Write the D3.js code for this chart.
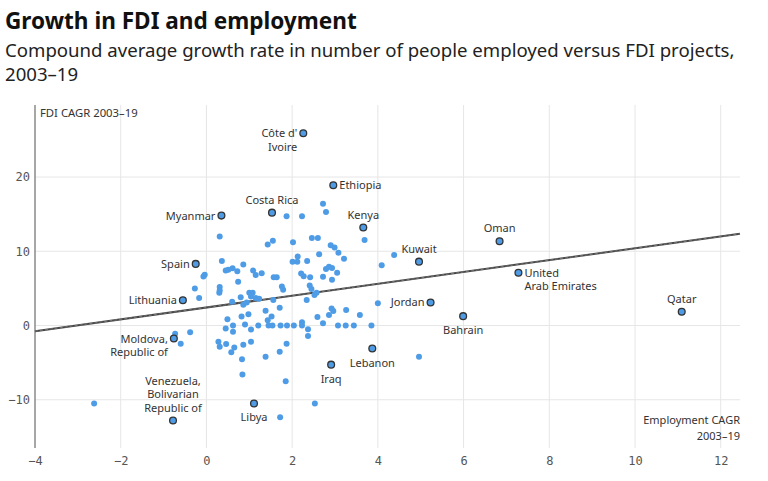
<!DOCTYPE html>
<html><head><meta charset="utf-8">
<script src="https://cdn.jsdelivr.net/npm/d3@7"></script>
<style>
body{margin:0;background:#fff;}
svg{display:block;}
</style></head>
<body>
<svg id="chart" width="768" height="481"></svg>
<script>
// ---- Data ----
const titleText = "Growth in FDI and employment";
const subtitleLines = ["Compound average growth rate in number of people employed versus FDI projects,", "2003\u201319"];
const yAxisTitle = "FDI CAGR 2003\u201319";
const xAxisTitle = ["Employment CAGR", "2003\u201319"];
const xTicks = [-4, -2, 0, 2, 4, 6, 8, 10, 12];
const yTicks = [-10, 0, 10, 20];

// other countries: [employment CAGR, FDI CAGR]
const otherPoints = [
 [2.72,16.4],[2.79,15.3],[1.87,14.7],[2.23,14.7],[0.31,12.0],[1.43,10.9],[1.55,11.4],[2.02,11.2],
 [2.46,11.8],[2.60,11.8],[3.69,11.5],[2.90,10.8],[2.99,10.5],[3.08,9.8],[3.21,9.0],[4.38,9.5],
 [4.09,8.1],[2.63,9.6],[2.13,9.3],[2.01,8.6],[2.12,8.6],[2.35,8.7],
 [0.36,8.7],[0.86,8.2],[0.45,7.4],[0.51,7.5],[0.61,7.7],[0.72,7.3],[1.09,7.4],[1.15,6.8],[1.29,7.05],
 [1.57,6.5],[1.64,6.5],[-0.07,6.6],[-0.04,6.85],[0.74,5.9],[-0.27,5.0],[-0.17,3.7],[0.31,5.2],[0.31,4.7],
 [0.30,4.4],[0.60,3.2],[0.80,3.8],[0.86,2.8],[1.00,4.4],[1.08,4.4],[1.04,3.9],[1.15,3.7],[1.23,3.6],
 [0.94,3.1],[1.76,5.25],[1.79,4.8],[1.56,3.45],[1.71,2.4],[1.38,2.0],
 [2.21,7.0],[2.27,6.65],[2.42,6.5],[2.79,7.6],[2.86,7.9],[2.93,7.75],[2.72,6.55],[3.05,7.1],[2.93,6.15],
 [2.41,5.4],[2.45,4.9],[2.34,3.45],[2.52,4.1],[2.57,4.4],[2.92,2.3],[2.96,1.95],[3.26,2.1],[2.86,1.4],
 [3.58,1.4],[2.59,1.15],[2.72,0.3],[4.0,3.0],
 [0.49,0.85],[0.82,1.2],[0.98,1.5],[1.43,0.7],[1.52,1.2],
 [0.62,0],[1.21,0],[1.45,0],[1.54,0],[1.73,0],[1.88,0],[2.04,0],[2.23,0],[3.07,0],[3.25,0],[3.44,0],[3.85,0],
 [0.45,-0.4],[0.62,-0.85],[0.90,0.15],[1.04,-0.55],[2.23,0.45],[2.37,-0.5],[2.37,-1.4],
 [0.28,-2.2],[0.31,-2.85],[0.46,-2.5],[0.65,-2.95],[0.58,-3.6],[0.86,-2.6],[1.04,-2.2],[1.71,-3.55],
 [1.87,-2.45],[1.38,-4.2],[0.83,-4.55],[0.84,-6.6],[1.85,-7.5],[1.72,-12.35],[2.53,-10.5],[-2.62,-10.5],
 [4.96,-4.2],[-0.38,-0.9],[-0.6,-2.45],[-0.73,-1.1]
];

// highlighted countries
const highlightNames = ["C\u00f4te d'|Ivoire","Ethiopia","Costa Rica","Myanmar","Kenya","Spain","Lithuania",
 "Moldova,|Republic of","Venezuela,|Bolivarian|Republic of","Libya","Iraq","Lebanon","Kuwait","Jordan",
 "Bahrain","Oman","United|Arab Emirates","Qatar"];
const highlightX = [2.26,2.96,1.53,0.35,3.66,-0.25,-0.55,-0.76,-0.78,1.11,2.91,3.87,4.96,5.23,5.99,6.84,7.28,11.09];
const highlightY = [25.9,18.9,15.2,14.8,13.2,8.3,3.4,-1.76,-12.8,-10.5,-5.27,-3.1,8.6,3.1,1.26,11.35,7.1,1.85];
// label placement: L = left of point, R = right, A = above, B = below
const labelSide = ["L","R","A","L","A","L","L","L","A","B","B","B","A","L","B","A","R","A"];

// fitted trend line endpoints
const trendX = [-4, 12.45];
const trendY = [-0.76, 12.35];

// ---- Chart ----
const svg = d3.select("#chart");
const W = 768, H = 481;
svg.append("rect").attr("width", W).attr("height", H).attr("fill", "#fff");

const x = d3.scaleLinear().domain([-4, 12.45]).range([35, 740]);
const y = d3.scaleLinear().domain([-16.5, 29.7]).range([448, 105]);

const font = "'Noto Sans', 'Open Sans', sans-serif";

svg.append("text").attr("x", 5).attr("y", 29).text(titleText)
  .attr("font-family", font).attr("font-weight", 700).attr("font-size", 22.6).attr("fill", "#111");
subtitleLines.forEach((t, i) => {
  svg.append("text").attr("x", 5).attr("y", 57 + i * 24).text(t)
    .attr("font-family", font).attr("font-size", 18.6).attr("fill", "#222");
});

// gridlines
const g = svg.append("g");
g.selectAll(".vg").data(xTicks.filter(d => d !== -4)).join("line")
  .attr("x1", d => x(d)).attr("x2", d => x(d)).attr("y1", y(29.7)).attr("y2", y(-16.5))
  .attr("stroke", "#e6e6e6").attr("stroke-width", 1);
g.selectAll(".hg").data(yTicks).join("line")
  .attr("x1", x(-4)).attr("x2", x(12.45)).attr("y1", d => y(d)).attr("y2", d => y(d))
  .attr("stroke", "#e6e6e6").attr("stroke-width", 1);

// x axis labels
const xAxis = d3.axisBottom(x).tickValues(xTicks).tickSize(0).tickPadding(0).tickFormat(d => d < 0 ? "\u2212" + Math.abs(d) : d);
const xg = svg.append("g").attr("transform", `translate(0,${456})`).call(xAxis);
xg.select(".domain").remove();
xg.selectAll("text").attr("font-family", "'DejaVu Sans Mono', monospace").attr("font-size", 12).attr("fill", "#555");

// y axis labels
const yAxis = d3.axisLeft(y).tickValues(yTicks).tickSize(0).tickPadding(0).tickFormat(d => d < 0 ? "\u2212" + Math.abs(d) : d);
const yg = svg.append("g").attr("transform", `translate(${30},0)`).call(yAxis);
yg.select(".domain").remove();
yg.selectAll("text").attr("font-family", "'DejaVu Sans Mono', monospace").attr("font-size", 12).attr("fill", "#555");

// left axis line
svg.append("line").attr("x1", x(-4)).attr("x2", x(-4)).attr("y1", y(29.7)).attr("y2", y(-16.5))
  .attr("stroke", "#8a8a8a").attr("stroke-width", 1.5);

// axis titles
svg.append("text").attr("x", 40).attr("y", 117).text(yAxisTitle)
  .attr("font-family", font).attr("font-size", 11.3).attr("fill", "#333");
xAxisTitle.forEach((t, i) => {
  svg.append("text").attr("x", 740).attr("y", 424 + i * 16).attr("text-anchor", "end").text(t)
    .attr("font-family", font).attr("font-size", 11).attr("fill", "#333");
});

// trend line
const trendData = trendX.map((d, i) => [d, trendY[i]]);
const lineGen = d3.line().x(d => x(d[0])).y(d => y(d[1]));
svg.append("path").datum(trendData).attr("d", lineGen).attr("stroke", "#444").attr("stroke-width", 2).attr("fill", "none");
svg.append("path").datum(trendData).attr("d", lineGen).attr("stroke", "#999").attr("stroke-width", 0.6)
  .attr("stroke-dasharray", "3,2").attr("fill", "none");

// other points
const blue = "#4f9ce6";
svg.append("g").selectAll("circle").data(otherPoints).join("circle")
  .attr("cx", d => x(d[0])).attr("cy", d => y(d[1])).attr("r", 3).attr("fill", blue);

// highlighted
const hl = highlightNames.map((n, i) => ({ lines: n.split("|"), x: highlightX[i], y: highlightY[i], side: labelSide[i] }));
svg.append("g").selectAll("circle").data(hl).join("circle")
  .attr("cx", d => x(d.x)).attr("cy", d => y(d.y)).attr("r", 3.4)
  .attr("fill", blue).attr("stroke", "#333").attr("stroke-width", 1.3);

const lh = 13.5;
const lab = svg.append("g").attr("font-family", font).attr("font-size", 11).attr("fill", "#333");
hl.forEach(d => {
  const px = x(d.x), py = y(d.y);
  const n = d.lines.length;
  let anchor, tx, firstY;
  if (d.side === "L") { anchor = "end"; tx = px - 6; firstY = py + 4; }
  else if (d.side === "R") { anchor = "start"; tx = px + 6; firstY = py + 4; }
  else if (d.side === "A") { anchor = "middle"; tx = px; firstY = py - 9 - (n - 1) * lh; }
  else { anchor = "middle"; tx = px; firstY = py + 18; }
  d.lines.forEach((t, i) => {
    lab.append("text").attr("x", tx).attr("y", firstY + i * lh).attr("text-anchor", anchor).text(t);
  });
});
</script>
</body></html>
